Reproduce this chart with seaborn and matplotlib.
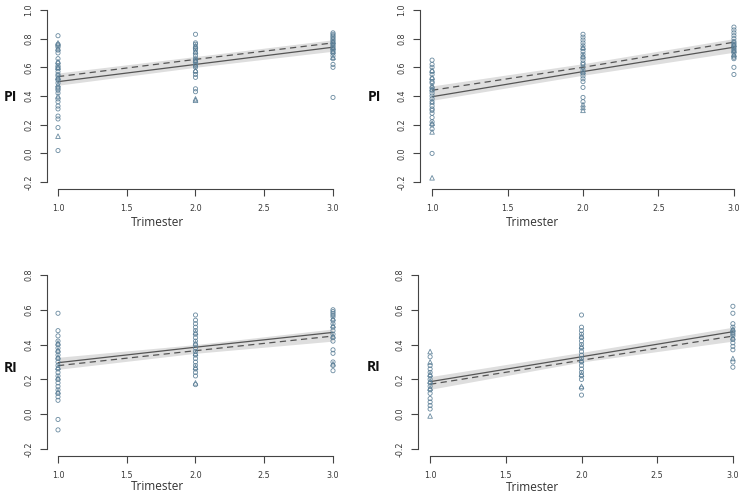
import matplotlib
matplotlib.use("Agg")
import matplotlib.pyplot as plt
import seaborn as sns
import pandas as pd

sns.set_style("ticks")
plt.rcParams['font.family'] = ['DejaVu Sans']

trimesters = [1, 2, 3]
x_ticks = [1.0, 1.5, 2.0, 2.5, 3.0]
x_ticklabels = ["1.0", "1.5", "2.0", "2.5", "3.0"]
pi_ticks = [-0.2, 0.0, 0.2, 0.4, 0.6, 0.8, 1.0]
ri_ticks = [-0.2, 0.0, 0.2, 0.4, 0.6, 0.8]

# ---- top-left (PI) ----
tl_t1_circ = [0.02, 0.18, 0.24, 0.26, 0.31, 0.33, 0.36, 0.38, 0.42, 0.44, 0.45, 0.46, 0.49, 0.51, 0.52,
              0.54, 0.55, 0.57, 0.59, 0.60, 0.61, 0.63, 0.66, 0.70, 0.72, 0.74, 0.75, 0.76, 0.82]
tl_t1_tri = [0.12, 0.40, 0.48, 0.53, 0.60, 0.64, 0.73, 0.77]
tl_t2_circ = [0.43, 0.45, 0.53, 0.55, 0.57, 0.60, 0.61, 0.62, 0.64, 0.65, 0.66, 0.68, 0.70, 0.72,
              0.73, 0.74, 0.76, 0.77, 0.83]
tl_t2_tri = [0.37, 0.38, 0.58, 0.65, 0.71, 0.75]
tl_t3_circ = [0.39, 0.60, 0.62, 0.66, 0.68, 0.70, 0.71, 0.72, 0.73, 0.74, 0.75, 0.76, 0.77, 0.78,
              0.79, 0.80, 0.81, 0.82, 0.83, 0.84]
tl_t3_tri = [0.67, 0.71, 0.74, 0.78]
tl_fit_solid = [0.500, 0.620, 0.740]
tl_fit_dashed = [0.535, 0.655, 0.770]
tl_band_lo = [0.475, 0.600, 0.712]
tl_band_hi = [0.560, 0.675, 0.792]

# ---- top-right (PI) ----
tr_t1_circ = [0.00, 0.17, 0.20, 0.22, 0.25, 0.28, 0.30, 0.31, 0.33, 0.36, 0.38, 0.40, 0.42, 0.44,
              0.46, 0.49, 0.50, 0.52, 0.55, 0.57, 0.60, 0.62, 0.65]
tr_t1_tri = [-0.17, 0.15, 0.21, 0.36, 0.45, 0.47, 0.53, 0.58]
tr_t2_circ = [0.36, 0.39, 0.46, 0.50, 0.52, 0.54, 0.56, 0.58, 0.60, 0.62, 0.63, 0.65, 0.67, 0.69,
              0.71, 0.73, 0.75, 0.77, 0.79, 0.81, 0.83]
tr_t2_tri = [0.30, 0.32, 0.34, 0.57, 0.68, 0.74]
tr_t3_circ = [0.55, 0.60, 0.66, 0.67, 0.68, 0.70, 0.71, 0.72, 0.73, 0.74, 0.75, 0.76, 0.77, 0.78,
              0.80, 0.82, 0.84, 0.86, 0.88]
tr_t3_tri = [0.69, 0.72, 0.76]
tr_fit_solid = [0.395, 0.570, 0.740]
tr_fit_dashed = [0.440, 0.600, 0.775]
tr_band_lo = [0.370, 0.545, 0.705]
tr_band_hi = [0.470, 0.625, 0.800]

# ---- bottom-left (RI) ----
bl_t1_circ = [-0.09, -0.03, 0.08, 0.10, 0.12, 0.14, 0.16, 0.18, 0.20, 0.22, 0.24, 0.26, 0.28, 0.30,
              0.32, 0.34, 0.36, 0.38, 0.40, 0.42, 0.45, 0.48, 0.58]
bl_t1_tri = [0.13, 0.21, 0.27, 0.33, 0.37, 0.41]
bl_t2_circ = [0.17, 0.22, 0.24, 0.26, 0.28, 0.30, 0.32, 0.34, 0.36, 0.38, 0.40, 0.42, 0.44, 0.46,
              0.48, 0.50, 0.52, 0.54, 0.57]
bl_t2_tri = [0.18, 0.27, 0.35, 0.41, 0.47]
bl_t3_circ = [0.25, 0.28, 0.30, 0.35, 0.37, 0.42, 0.44, 0.46, 0.48, 0.50, 0.52, 0.54, 0.56, 0.57,
              0.58, 0.59, 0.60]
bl_t3_tri = [0.29, 0.45, 0.51, 0.55]
bl_fit_solid = [0.296, 0.385, 0.470]
bl_fit_dashed = [0.279, 0.365, 0.449]
bl_band_lo = [0.258, 0.350, 0.420]
bl_band_hi = [0.327, 0.400, 0.490]

# ---- bottom-right (RI) ----
br_t1_circ = [0.03, 0.05, 0.07, 0.09, 0.12, 0.14, 0.16, 0.18, 0.20, 0.22, 0.24, 0.26, 0.28, 0.33]
br_t1_tri = [-0.01, 0.15, 0.19, 0.23, 0.30, 0.36]
br_t2_circ = [0.11, 0.15, 0.20, 0.22, 0.24, 0.26, 0.28, 0.30, 0.32, 0.34, 0.36, 0.38, 0.40, 0.42,
              0.44, 0.46, 0.48, 0.50, 0.57]
br_t2_tri = [0.16, 0.23, 0.31, 0.39, 0.45]
br_t3_circ = [0.27, 0.30, 0.37, 0.39, 0.41, 0.43, 0.45, 0.46, 0.47, 0.48, 0.50, 0.52, 0.58, 0.62]
br_t3_tri = [0.32, 0.44, 0.49]
br_fit_solid = [0.187, 0.330, 0.474]
br_fit_dashed = [0.172, 0.310, 0.449]
br_band_lo = [0.143, 0.300, 0.420]
br_band_hi = [0.216, 0.355, 0.500]

W, H = 746, 498
fig = plt.figure(figsize=(W / 100, H / 100), dpi=100)

PT_COL = "#5a7e96"
LINE_COL = "#555555"
BAND_COL = "#dedede"
TXT_COL = "#3a3a3a"


def px_axes(left, right, top, bottom):
    return fig.add_axes([left / W, 1 - bottom / H, (right - left) / W, (bottom - top) / H])


def long_df(c1, c2, c3, t1, t2, t3):
    rows = []
    for t, vals in zip(trimesters, (c1, c2, c3)):
        rows += [(t, v, "circle") for v in vals]
    for t, vals in zip(trimesters, (t1, t2, t3)):
        rows += [(t, v, "triangle") for v in vals]
    return pd.DataFrame(rows, columns=["Trimester", "value", "group"])


def panel(ax, df, solid, dashed, lo, hi, yticks, ylim):
    ax.fill_between(trimesters, lo, hi, color=BAND_COL, lw=0, zorder=1)
    sns.lineplot(x=trimesters, y=solid, ax=ax, color=LINE_COL, lw=0.9, zorder=2)
    sns.lineplot(x=trimesters, y=dashed, ax=ax, color=LINE_COL, lw=0.9, zorder=2,
                 linestyle=(0, (5, 3.5)))
    for grp, mk, sz in (("circle", "o", 9), ("triangle", "^", 11)):
        d = df[df["group"] == grp]
        ax.scatter(d["Trimester"], d["value"], marker=mk, s=sz, facecolors="none",
                   edgecolors=PT_COL, linewidths=0.6, alpha=0.9, zorder=3)
    ax.set_xlim(0.92, 3.08)
    ax.set_ylim(*ylim)
    ax.set_xticks(x_ticks)
    ax.set_xticklabels(x_ticklabels)
    ax.set_yticks(yticks)
    ax.set_yticklabels([f"{t:.1f}" for t in yticks])
    for lab in ax.get_yticklabels():
        lab.set_rotation(90)
        lab.set_va("center")
    ax.tick_params(axis="both", length=5, width=0.8, color="#444444", labelsize=5.8,
                   labelcolor=TXT_COL, pad=5)
    ax.tick_params(axis="x", pad=6)
    for s in ("top", "right"):
        ax.spines[s].set_visible(False)
    for s in ("left", "bottom"):
        ax.spines[s].set_color("#444444")
        ax.spines[s].set_linewidth(0.8)
    ax.spines["left"].set_bounds(yticks[0], yticks[-1])
    ax.spines["bottom"].set_bounds(1.0, 3.0)
    ax.set_xlabel("")
    ax.set_ylabel("")
    ax.patch.set_alpha(0)


ax_tl = px_axes(47, 344, 3, 189)
panel(ax_tl, long_df(tl_t1_circ, tl_t2_circ, tl_t3_circ, tl_t1_tri, tl_t2_tri, tl_t3_tri),
      tl_fit_solid, tl_fit_dashed, tl_band_lo, tl_band_hi, pi_ticks, (-0.248, 1.048))

ax_tr = px_axes(420, 746, 3, 189)
panel(ax_tr, long_df(tr_t1_circ, tr_t2_circ, tr_t3_circ, tr_t1_tri, tr_t2_tri, tr_t3_tri),
      tr_fit_solid, tr_fit_dashed, tr_band_lo, tr_band_hi, pi_ticks, (-0.248, 1.048))

ax_bl = px_axes(47, 344, 268, 456)
panel(ax_bl, long_df(bl_t1_circ, bl_t2_circ, bl_t3_circ, bl_t1_tri, bl_t2_tri, bl_t3_tri),
      bl_fit_solid, bl_fit_dashed, bl_band_lo, bl_band_hi, ri_ticks, (-0.24, 0.84))

ax_br = px_axes(418, 745, 268, 456)
panel(ax_br, long_df(br_t1_circ, br_t2_circ, br_t3_circ, br_t1_tri, br_t2_tri, br_t3_tri),
      br_fit_solid, br_fit_dashed, br_band_lo, br_band_hi, ri_ticks, (-0.24, 0.84))

lab_font = dict(family=["Open Sans", "DejaVu Sans"], color="#333333")
for (cx, cy) in ((158, 222), (533, 222), (158, 486), (533, 487)):
    fig.text(cx / W, 1 - cy / H, "Trimester", ha="center", va="center", fontsize=8.5, **lab_font)
for (cx, cy, t) in ((10, 97, "PI"), (374, 97, "PI"), (11, 368, "RI"), (374, 367, "RI")):
    fig.text(cx / W, 1 - cy / H, t, ha="center", va="center", fontsize=10, fontweight="bold",
             family=["Open Sans", "DejaVu Sans"], color="#111111")

fig.savefig("out.png", dpi=100)
